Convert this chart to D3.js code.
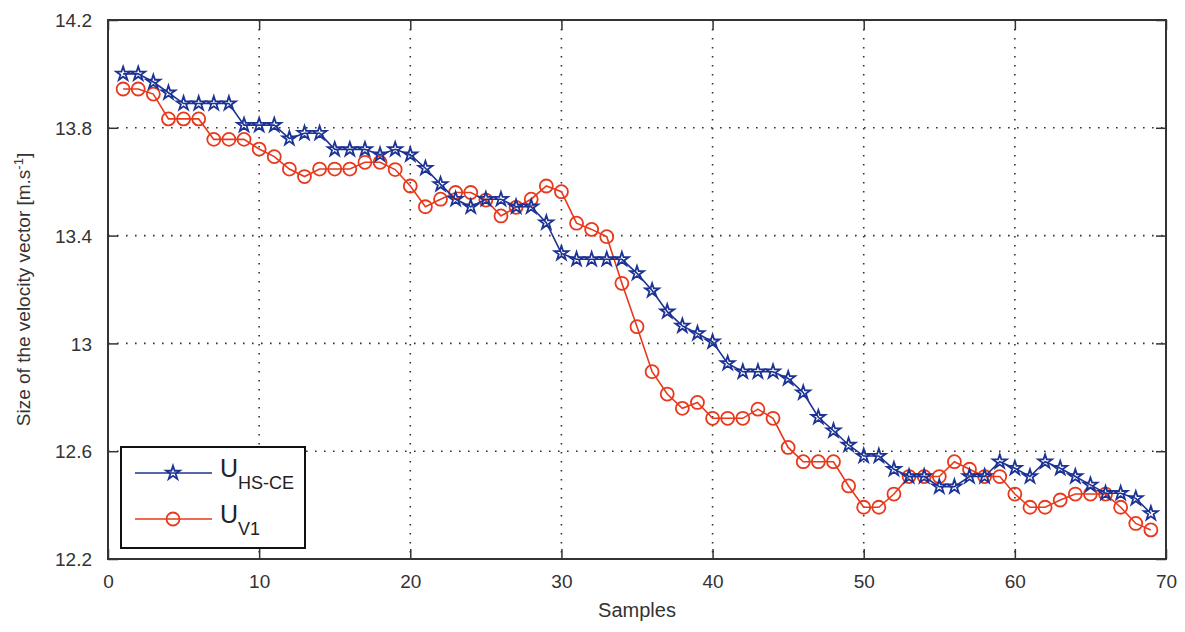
<!DOCTYPE html>
<html>
<head>
<meta charset="utf-8">
<script src="https://cdn.jsdelivr.net/npm/d3@7"></script>
<style>
  body { margin: 0; background: #fff; }
  text { font-family: "Liberation Sans", Arial, sans-serif; fill: #333; }
</style>
</head>
<body>
<script>
let width = 1185;
let height = 632;

// samples 1..69
const samples = d3.range(1, 70);

const uHsCe = [14.0, 14.0, 13.97, 13.93, 13.89, 13.89, 13.89, 13.89, 13.81, 13.81,
	13.81, 13.76, 13.78, 13.78, 13.72, 13.72, 13.72, 13.70, 13.72, 13.70,
	13.65, 13.59, 13.535, 13.507, 13.535, 13.535, 13.507, 13.507, 13.448, 13.334,
	13.312, 13.312, 13.312, 13.312, 13.26, 13.196, 13.118, 13.065, 13.037, 13.006,
	12.926, 12.895, 12.895, 12.895, 12.87, 12.817, 12.726, 12.676, 12.623, 12.582,
	12.582, 12.533, 12.506, 12.506, 12.468, 12.468, 12.506, 12.506, 12.561, 12.537,
	12.506, 12.561, 12.537, 12.506, 12.475, 12.444, 12.444, 12.425, 12.369];

const uV1 = [13.944, 13.944, 13.925, 13.833, 13.833, 13.833, 13.757, 13.757, 13.757, 13.721,
	13.693, 13.647, 13.619, 13.647, 13.647, 13.647, 13.672, 13.672, 13.645, 13.584,
	13.507, 13.535, 13.56, 13.56, 13.532, 13.473, 13.505, 13.535, 13.584, 13.563,
	13.446, 13.423, 13.396, 13.223, 13.062, 12.895, 12.812, 12.759, 12.781, 12.722,
	12.722, 12.722, 12.756, 12.722, 12.614, 12.561, 12.561, 12.561, 12.471, 12.392,
	12.392, 12.441, 12.506, 12.506, 12.506, 12.561, 12.533, 12.506, 12.506, 12.441,
	12.392, 12.392, 12.419, 12.441, 12.441, 12.441, 12.392, 12.332, 12.308];

const xTicks = [0, 10, 20, 30, 40, 50, 60, 70];
const yTicks = [12.2, 12.6, 13, 13.4, 13.8, 14.2];

const blue = '#1c3394';
const red = '#e8391d';

let svg = d3.select('body').append('svg')
	.attr('width', width)
	.attr('height', height);

let pLeft = 108, pRight = 1166, pTop = 20, pBottom = 559;

let x = d3.scaleLinear().domain([0, 70]).range([pLeft, pRight]);
let y = d3.scaleLinear().domain([12.2, 14.2]).range([pBottom, pTop]);

// dotted grid
let grid = svg.append('g');
for (let t of xTicks.slice(1, -1)) {
	grid.append('line')
		.attr('x1', x(t)).attr('x2', x(t))
		.attr('y1', pTop).attr('y2', pBottom)
		.style('stroke', '#333').style('stroke-width', 1.6)
		.style('stroke-dasharray', '1.6,7.4');
}
for (let t of yTicks.slice(1, -1)) {
	grid.append('line')
		.attr('x1', pLeft).attr('x2', pRight)
		.attr('y1', y(t)).attr('y2', y(t))
		.style('stroke', '#333').style('stroke-width', 1.6)
		.style('stroke-dasharray', '1.6,7.4');
}

// axes, ticks inward on all four sides
let fmtY = d => String(d);
let axB = svg.append('g').attr('transform', 'translate(0,' + pBottom + ')')
	.call(d3.axisBottom(x).tickValues(xTicks).tickSize(-10).tickPadding(16));
let axT = svg.append('g').attr('transform', 'translate(0,' + pTop + ')')
	.call(d3.axisTop(x).tickValues(xTicks).tickSize(-10).tickFormat(''));
let axL = svg.append('g').attr('transform', 'translate(' + pLeft + ',0)')
	.call(d3.axisLeft(y).tickValues(yTicks).tickSize(-10).tickPadding(16).tickFormat(fmtY));
let axR = svg.append('g').attr('transform', 'translate(' + pRight + ',0)')
	.call(d3.axisRight(y).tickValues(yTicks).tickSize(-10).tickFormat(''));

for (let ax of [axB, axT, axL, axR]) {
	ax.select('.domain').remove();
	ax.selectAll('line').style('stroke', '#333').style('stroke-width', 1.5);
	ax.selectAll('text').style('font-size', '19px').style('fill', '#333')
		.style('font-family', '"Liberation Sans", Arial, sans-serif');
}
axL.selectAll('text').attr('dy', '0.35em');

svg.append('rect')
	.attr('x', pLeft).attr('y', pTop)
	.attr('width', pRight - pLeft).attr('height', pBottom - pTop)
	.style('fill', 'none').style('stroke', '#333').style('stroke-width', 2);

// series
let line = d3.line().x((d, i) => x(samples[i])).y(d => y(d));
let star = d3.symbol().type(d3.symbolStar).size(60);

function drawSeries(values, color, marker) {
	let g = svg.append('g');
	g.append('path')
		.attr('d', line(values))
		.style('fill', 'none').style('stroke', color).style('stroke-width', 1.6);
	g.selectAll('.m').data(values).enter()
		.append(marker === 'star' ? 'path' : 'circle')
		.attr('class', 'm')
		.each(function (d, i) {
			let s = d3.select(this);
			if (marker === 'star') {
				s.attr('d', star).attr('transform', 'translate(' + x(samples[i]) + ',' + y(d) + ')');
			} else {
				s.attr('cx', x(samples[i])).attr('cy', y(d)).attr('r', 6.5);
			}
		})
		.style('fill', 'none').style('stroke', color).style('stroke-width', 1.8);
}
drawSeries(uV1, red, 'circle');
drawSeries(uHsCe, blue, 'star');

// legend
let lg = svg.append('g');
lg.append('rect')
	.attr('x', 121).attr('y', 447).attr('width', 184).attr('height', 101)
	.style('fill', '#fff').style('stroke', '#111').style('stroke-width', 2);
let legendItems = [
	{ color: blue, marker: 'star', sub: 'HS-CE', yy: 473 },
	{ color: red, marker: 'circle', sub: 'V1', yy: 519 }
];
for (let it of legendItems) {
	lg.append('line')
		.attr('x1', 135).attr('x2', 212).attr('y1', it.yy).attr('y2', it.yy)
		.style('stroke', it.color).style('stroke-width', 1.6);
	if (it.marker === 'star') {
		lg.append('path').attr('d', star).attr('transform', 'translate(173,' + it.yy + ')')
			.style('fill', 'none').style('stroke', it.color).style('stroke-width', 1.8);
	} else {
		lg.append('circle').attr('cx', 173).attr('cy', it.yy).attr('r', 6.5)
			.style('fill', 'none').style('stroke', it.color).style('stroke-width', 1.8);
	}
	let t = lg.append('text').attr('x', 220).attr('y', it.yy + 4)
		.style('font-size', '25px').style('fill', '#222');
	t.append('tspan').text('U');
	t.append('tspan').attr('dy', 12).style('font-size', '18px').text(it.sub);
}

// axis labels
svg.append('text')
	.attr('x', (pLeft + pRight) / 2).attr('y', 617)
	.attr('text-anchor', 'middle')
	.style('font-size', '20px').style('fill', '#333')
	.text('Samples');

let yl = svg.append('text')
	.attr('transform', 'translate(30,' + ((pTop + pBottom) / 2) + ') rotate(-90)')
	.attr('text-anchor', 'middle')
	.style('font-size', '19px').style('fill', '#333');
yl.append('tspan').text('Size of the velocity vector [m.s');
yl.append('tspan').attr('dy', -7).style('font-size', '13px').text('-1');
yl.append('tspan').attr('dy', 7).text(']');
</script>
</body>
</html>
